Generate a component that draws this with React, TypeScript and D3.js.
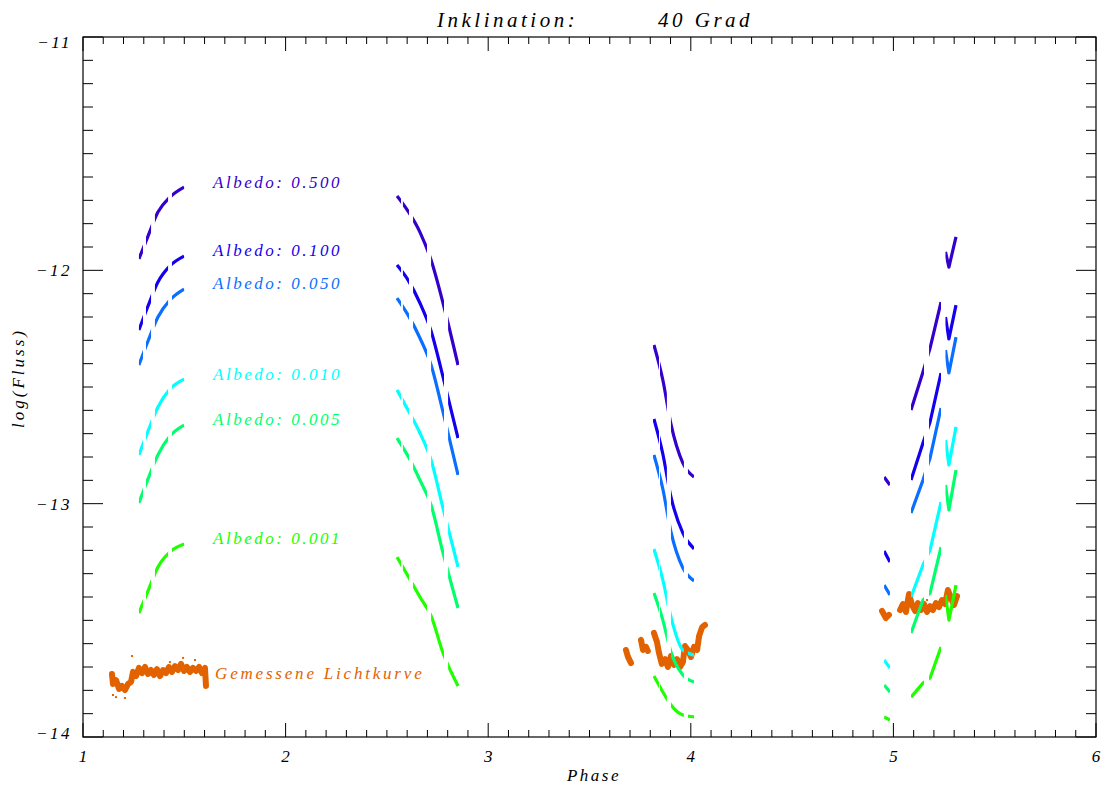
import React from "react";
import * as d3 from "d3";

// Albedo-Modelle: Label, Farbe
const albedoLabels = ["0.500", "0.100", "0.050", "0.010", "0.005", "0.001"];
const albedoColors = ["#3400cc", "#1400ee", "#0a6eff", "#00ffff", "#00ff6c", "#20ff00"];

// Phasen der vier Beobachtungsfenster
const phaseW1 = [1.276, 1.321, 1.37, 1.429, 1.499];
const phaseW2 = [2.55, 2.604, 2.663, 2.718, 2.777, 2.851];
const phaseW3 = [3.818, 3.862, 3.902, 3.961, 4.016];
const phaseW4 = [4.954, 4.983, 5.087, 5.146, 5.181, 5.235, 5.257, 5.274, 5.309];

// log(Fluss) je Albedo, ein Array pro Fenster
const albedo500 = [
  [-11.951, -11.853, -11.75, -11.686, -11.643],
  [-11.681, -11.746, -11.836, -11.956, -12.14, -12.406],
  [-12.32, -12.47, -12.659, -12.826, -12.886],
  [-12.886, -12.92, -12.599, -12.436, -12.333, -12.136, -11.921, -11.986, -11.857],
];
const albedo100 = [
  [-12.256, -12.153, -12.05, -11.981, -11.939],
  [-11.977, -12.041, -12.14, -12.26, -12.457, -12.719],
  [-12.637, -12.787, -12.971, -13.126, -13.194],
  [-13.203, -13.25, -12.899, -12.74, -12.65, -12.44, -12.2, -12.294, -12.149],
];
const albedo050 = [
  [-12.406, -12.303, -12.2, -12.127, -12.08],
  [-12.119, -12.191, -12.29, -12.406, -12.607, -12.877],
  [-12.791, -12.937, -13.121, -13.276, -13.331],
  [-13.349, -13.391, -13.04, -12.899, -12.804, -12.59, -12.341, -12.44, -12.286],
];
const albedo010 = [
  [-12.791, -12.689, -12.586, -12.509, -12.466],
  [-12.513, -12.599, -12.697, -12.813, -13.019, -13.271],
  [-13.194, -13.327, -13.486, -13.627, -13.649],
  [-13.67, -13.704, -13.4, -13.263, -13.199, -12.993, -12.727, -12.834, -12.671],
];
const albedo005 = [
  [-12.997, -12.894, -12.791, -12.71, -12.663],
  [-12.719, -12.796, -12.899, -13.006, -13.211, -13.447],
  [-13.383, -13.499, -13.636, -13.734, -13.764],
  [-13.777, -13.807, -13.554, -13.413, -13.383, -13.186, -12.92, -13.027, -12.856],
];
const albedo001 = [
  [-13.469, -13.374, -13.271, -13.207, -13.173],
  [-13.229, -13.31, -13.4, -13.481, -13.64, -13.781],
  [-13.739, -13.807, -13.863, -13.906, -13.914],
  [-13.914, -13.927, -13.829, -13.769, -13.747, -13.614, -13.391, -13.499, -13.349],
];

// Zeitliche Abdeckung (Phasenintervalle mit Daten)
const coverage = [
  [1.276, 1.296], [1.311, 1.336], [1.355, 1.42], [1.439, 1.5],
  [2.545, 2.57], [2.579, 2.609], [2.629, 2.698], [2.718, 2.782], [2.802, 2.856],
  [3.813, 3.843], [3.848, 3.882], [3.902, 3.966], [3.986, 4.016],
  [4.954, 4.983], [5.087, 5.151], [5.176, 5.235], [5.257, 5.319],
];

// Gemessene Lichtkurve (NaN = Lücke)
const lichtPhase = [
  1.143, 1.148, 1.163, 1.178, 1.192, 1.207, 1.222, 1.237, 1.247, 1.262, 1.276, 1.291, 1.306, 1.321,
  1.336, 1.35, 1.365, 1.38, 1.395, 1.41, 1.424, 1.439, 1.454, 1.469, 1.484, 1.499, 1.513, 1.528,
  1.543, 1.558, 1.573, 1.587, 1.602, 1.607, NaN,
  3.68, 3.69, 3.705, NaN,
  3.754, 3.764, 3.779, 3.788, NaN,
  3.818, 3.833, 3.842, 3.857, 3.873, 3.887, 3.902, 3.917, 3.932, 3.947, 3.961, 3.971, 3.986, 4.001,
  4.016, 4.031, 4.041, 4.056, 4.07, NaN,
  4.944, 4.963, 4.978, NaN,
  5.033, 5.047, 5.062, 5.077, 5.092, 5.107, 5.121, 5.136, 5.151, 5.166, 5.181, 5.195, 5.21, 5.225,
  5.24, 5.255, 5.269, 5.284, 5.299, 5.314,
];
const lichtFlux = [
  -13.73, -13.773, -13.756, -13.794, -13.781, -13.799, -13.773, -13.764, -13.721, -13.739, -13.704,
  -13.726, -13.7, -13.73, -13.713, -13.734, -13.709, -13.739, -13.713, -13.726, -13.7, -13.721,
  -13.696, -13.713, -13.687, -13.717, -13.7, -13.721, -13.704, -13.717, -13.7, -13.726, -13.704,
  -13.781, NaN,
  -13.627, -13.657, -13.683, NaN,
  -13.584, -13.627, -13.614, -13.631, NaN,
  -13.554, -13.593, -13.636, -13.687, -13.666, -13.7, -13.653, -13.691, -13.666, -13.7, -13.679,
  -13.61, -13.627, -13.657, -13.614, -13.627, -13.567, -13.529, -13.52, NaN,
  -13.46, -13.49, -13.477, NaN,
  -13.456, -13.43, -13.464, -13.387, -13.434, -13.46, -13.426, -13.456, -13.43, -13.464, -13.439,
  -13.456, -13.426, -13.443, -13.413, -13.43, -13.37, -13.404, -13.434, -13.396,
];
// Einzelne Streupunkte
const streuPhase = [1.148, 1.163, 1.207, 1.242, 1.429, 1.494, 1.553, 3.754, 5.166];
const streuFlux = [-13.82, -13.829, -13.833, -13.653, -13.679, -13.661, -13.67, -13.575, -13.413];

// Beschriftungen
const labelPhase = 1.642;
const labelFlux = [-11.621, -11.913, -12.054, -12.444, -12.637, -13.147];
const lichtLabelFlux = -13.726;
const xTicks = [1, 2, 3, 4, 5, 6];
const yTicks = [-11, -12, -13, -14];

const W = 1106;
const H = 792;
const left = 83;
const right = 1096;
const top = 37;
const bottom = 737;
const font = "'Liberation Serif', serif";

// Liegt das offene Intervall (a,b) komplett in einer Datenlücke?
const inGap = (a: number, b: number) => !coverage.some(([c0, c1]) => c0 < b && c1 > a);

export default function App() {
  const x = d3.scaleLinear().domain([1, 6]).range([left, right]);
  const y = d3.scaleLinear().domain([-11, -14]).range([top, bottom]);

  const windows = [phaseW1, phaseW2, phaseW3, phaseW4];
  const series = [albedo500, albedo100, albedo050, albedo010, albedo005, albedo001];

  const smooth = d3
    .line<[number, number]>()
    .defined((d) => !isNaN(d[1]))
    .x((d) => x(d[0]))
    .y((d) => y(d[1]))
    .curve(d3.curveMonotoneX);
  // letztes Fenster hat Zacken -> gerade Verbindungen
  const straight = d3
    .line<[number, number]>()
    .defined((d) => !isNaN(d[1]))
    .x((d) => x(d[0]))
    .y((d) => y(d[1]));

  const licht = d3
    .line<[number, number]>()
    .defined((d) => !isNaN(d[0]) && !isNaN(d[1]))
    .x((d) => x(d[0]))
    .y((d) => y(d[1]));

  const lichtPts = lichtPhase.map((p, i) => [p, lichtFlux[i]] as [number, number]);

  const xMinor = d3.range(10, 61).map((d) => d / 10);
  const yMinor = d3.range(110, 141).map((d) => -d / 10);

  // Punkte eines Fensters, mit Unterbrechung an Datenlücken
  const withBreaks = (phases: number[], vals: number[]) => {
    const out: [number, number][] = [];
    phases.forEach((p, k) => {
      if (k > 0 && inGap(phases[k - 1], p)) out.push([p, NaN]);
      out.push([p, vals[k]]);
    });
    return out;
  };

  return (
    <svg
      width={W}
      height={H}
      style={{ position: "absolute", left: 0, top: 0, background: "#fff" }}
      fontFamily={font}
      fontStyle="italic"
    >
      <defs>
        <clipPath id="abdeckung">
          {coverage.map(([a, b], i) => (
            <rect key={i} x={x(a)} y={top} width={x(b) - x(a)} height={bottom - top} />
          ))}
        </clipPath>
      </defs>

      <rect x={0} y={0} width={W} height={H} fill="#fff" />

      {/* Titel */}
      <text x={437} y={27} fontSize={21} letterSpacing={3.5}>
        Inklination:
      </text>
      <text x={658} y={27} fontSize={21} letterSpacing={3.5}>
        40 Grad
      </text>

      {/* Gemessene Lichtkurve */}
      <g>
        <path
          d={licht(lichtPts) || ""}
          fill="none"
          stroke="#e26200"
          strokeWidth={6}
          strokeLinejoin="round"
          strokeLinecap="round"
        />
        {streuPhase.map((p, i) => (
          <rect key={i} x={x(p) - 1} y={y(streuFlux[i]) - 1} width={2} height={2} fill="#e26200" />
        ))}
      </g>

      {/* Modellkurven */}
      <g clipPath="url(#abdeckung)">
        {series.map((s, si) =>
          s.map((vals, wi) => {
            const pts = withBreaks(windows[wi], vals);
            const gen = wi === 3 ? straight : smooth;
            return (
              <path
                key={`${si}-${wi}`}
                d={gen(pts) || ""}
                fill="none"
                stroke={albedoColors[si]}
                strokeWidth={3.2}
                strokeLinejoin="round"
              />
            );
          })
        )}
      </g>

      {/* Legende im Plot */}
      {albedoLabels.map((l, i) => (
        <text
          key={l}
          x={x(labelPhase)}
          y={y(labelFlux[i])}
          dy="0.35em"
          fontSize={17}
          letterSpacing={2.5}
          fill={albedoColors[i]}
        >
          {`Albedo: ${l}`}
        </text>
      ))}
      <text
        x={x(labelPhase) + 2}
        y={y(lichtLabelFlux)}
        dy="0.35em"
        fontSize={17}
        letterSpacing={2.8}
        fill="#e26200"
      >
        Gemessene Lichtkurve
      </text>

      {/* Rahmen */}
      <rect x={left} y={top} width={right - left} height={bottom - top} fill="none" stroke="#000" strokeWidth={1.2} />

      {/* x-Ticks */}
      {xMinor.map((t, i) => {
        const major = Math.abs(t - Math.round(t)) < 1e-6;
        const len = major ? 14 : 7;
        return (
          <g key={i} stroke="#000" strokeWidth={1}>
            <line x1={x(t)} x2={x(t)} y1={bottom} y2={bottom - len} />
            <line x1={x(t)} x2={x(t)} y1={top} y2={top + len} />
          </g>
        );
      })}
      {/* y-Ticks */}
      {yMinor.map((t, i) => {
        const major = Math.abs(t - Math.round(t)) < 1e-6;
        const len = major ? 20 : 10;
        return (
          <g key={i} stroke="#000" strokeWidth={1}>
            <line x1={left} x2={left + len} y1={y(t)} y2={y(t)} />
            <line x1={right} x2={right - len} y1={y(t)} y2={y(t)} />
          </g>
        );
      })}

      {xTicks.map((t) => (
        <text key={t} x={x(t)} y={762} fontSize={17} textAnchor="middle">
          {t}
        </text>
      ))}
      {yTicks.map((t) => (
        <text
          key={t}
          x={72}
          y={Math.min(Math.max(y(t), 42), 733)}
          dy="0.35em"
          fontSize={17}
          letterSpacing={2.5}
          textAnchor="end"
        >
          {`\u2212${Math.abs(t)}`}
        </text>
      ))}

      {/* Achsentitel */}
      <text x={594} y={781} fontSize={17} letterSpacing={2.5} textAnchor="middle">
        Phase
      </text>
      <text
        transform={`translate(24,378) rotate(-90)`}
        fontSize={17}
        letterSpacing={3}
        textAnchor="middle"
      >
        log(Fluss)
      </text>
    </svg>
  );
}
